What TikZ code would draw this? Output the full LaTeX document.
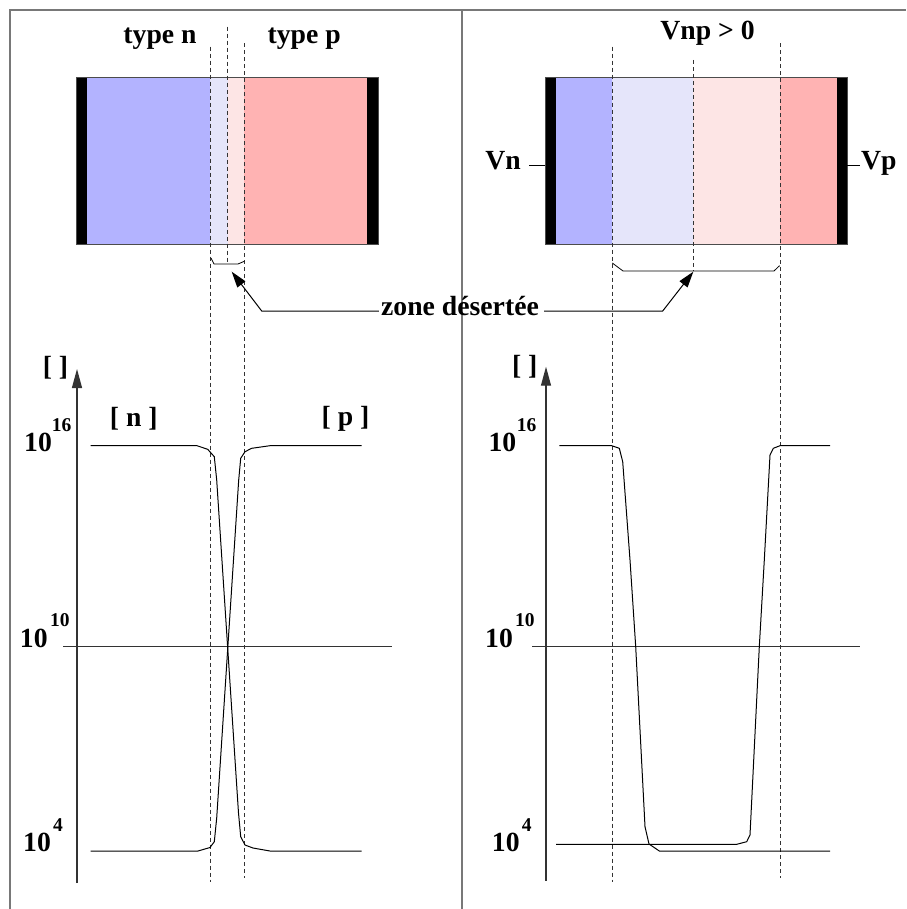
\documentclass[tikz,border=0pt]{standalone}
\usepackage{fontspec}
\setmainfont{Liberation Serif}
\usetikzlibrary{arrows.meta, positioning, calc}
\definecolor{ntype}{RGB}{179,179,255}
\definecolor{ndep}{RGB}{229,229,250}
\definecolor{pdep}{RGB}{253,229,229}
\definecolor{ptype}{RGB}{255,179,179}
\definecolor{framegray}{RGB}{120,120,120}
\tikzstyle{lab} = [inner sep=0pt, font=\fontsize{27.7}{32}\selectfont\bfseries]
\tikzstyle{expo} = [inner sep=0pt, anchor=base west, font=\fontsize{19.5}{22}\selectfont\bfseries]
\tikzstyle{guide} = [dash pattern=on 4pt off 3pt, line width=0.8pt, black!80]
\tikzstyle{curve} = [line width=1pt]
\tikzstyle{axis} = [-{Triangle[length=19pt, width=10pt]}, line width=1.2pt, black!80]
\tikzstyle{pointer} = [-{Triangle[length=16pt, width=10pt]}, line width=1pt]

\begin{document}
\begin{tikzpicture}[x=1pt, y=-1pt]
  \useasboundingbox (0,0) rectangle (906,909);

  % frame
  \draw[framegray, line width=2pt] (10,909) -- (10,10) -- (906,10);
  \draw[framegray, line width=2pt] (461.7,10) -- (461.7,909);

  % left junction, no bias
  \fill[ntype] (87,77) rectangle (210.3,244);
  \fill[ndep] (210.3,77) rectangle (227.7,244);
  \fill[pdep] (227.7,77) rectangle (244.3,244);
  \fill[ptype] (244.3,77) rectangle (367.3,244);
  \fill (76.7,77) rectangle (87.3,244);
  \fill (367.3,77) rectangle (378.3,244);
  \draw[line width=0.8pt, black!70] (76.7,77) rectangle (378.3,244);

  % right junction, Vnp > 0
  \fill[ntype] (556,77) rectangle (612,244);
  \fill[ndep] (612,77) rectangle (693.3,244);
  \fill[pdep] (693.3,77) rectangle (780,244);
  \fill[ptype] (780,77) rectangle (836.7,244);
  \fill (545,77) rectangle (556,244);
  \fill (836.7,77) rectangle (847.3,244);
  \draw[line width=0.8pt, black!70] (545,77) rectangle (847.3,244);

  \node[lab, anchor=base] (typen) at (160,43.5) {type n};
  \node[lab, anchor=base] (typep) at (304.2,43.5) {type p};
  \node[lab, anchor=base] (vnp) at (707.5,40) {Vnp > 0};
  \node[lab, anchor=base east] (vn) at (521,170) {Vn};
  \node[lab, anchor=base west] (vp) at (861,170) {Vp};
  \coordinate (cn) at (545,165);
  \coordinate (cp) at (847.3,165);
  \draw[line width=0.8pt] ($(vn.base east)+(8,-5)$) -- (cn);
  \draw[line width=0.8pt] (cp) -- ($(vp.base west)+(-1,-5)$);

  % dashed guides
  \draw[guide] (210.3,46.7) -- (210.3,881.7);
  \draw[guide] (227.7,26.7) -- (227.7,263);
  \draw[guide] (244.3,43.3) -- (244.3,878);
  \draw[guide] (612,46.7) -- (612,881.7);
  \draw[guide] (693.3,60) -- (693.3,271);
  \draw[guide] (780,43.3) -- (780,878);

  % depletion zone brackets
  \draw[line width=0.8pt] (211,258) -- (214,264) -- (238,264) -- (244.3,261.3);
  \draw[line width=0.8pt] (612.3,263) -- (623,271) -- (774,271) -- (779.5,265.7);

  \node[lab, anchor=base] (zone) at (460,315) {zone désertée};
  \coordinate (bendl) at (261.7,311);
  \coordinate (tipl) at (231.7,271.7);
  \coordinate (bendr) at (662.7,311);
  \coordinate (tipr) at (693.3,271.7);
  \draw[pointer] ($(zone.base west)+(-2,-4)$) -- (bendl) -- (tipl);
  \draw[pointer] ($(zone.base east)+(5,-4)$) -- (bendr) -- (tipr);

  % left plot
  \coordinate (axl0) at (77,883);
  \coordinate (axl1) at (77,369);
  \draw[axis] (axl0) -- (axl1);
  \node[lab] (conl) at (55.5,367.5) {[ ]};
  \node[lab] (conn) at (133.8,418.5) {[ n ]};
  \node[lab] (conp) at (345.5,418.5) {[ p ]};

  \node[lab, anchor=base west] (l16) at (24,451.7) {10};
  \node[expo] (l16x) at (51.7,431.7) {16};
  \node[lab, anchor=base west] (l10) at (19.7,647) {10};
  \node[expo] (l10x) at (50,626.7) {10};
  \node[lab, anchor=base west] (l4) at (23,851) {10};
  \node[expo] (l4x) at (53,831.7) {4};

  \draw[line width=1pt, black!80] (63.3,646.7) -- (391.7,646.7);
  \draw[curve] (90.7,445.7) -- (197,445.7) -- (207.7,449.3) -- (214.3,456.7)
    -- (216.7,480) -- (238.5,813) -- (240.7,836.7) -- (245,845) -- (253,848)
    -- (270,851) -- (361.7,851);
  \draw[curve] (90.7,851) -- (198,851) -- (210,847.5) -- (214.3,841.7)
    -- (216.7,818) -- (238.7,480) -- (240.7,458.3) -- (245,451.7) -- (251.7,448.3)
    -- (270,445.7) -- (361.7,445.7);

  % right plot
  \coordinate (axr0) at (546,880.7);
  \coordinate (axr1) at (546,366.7);
  \draw[axis] (axr0) -- (axr1);
  \node[lab] (conr) at (524.7,366.7) {[ ]};

  \node[lab, anchor=base west] (r16) at (488.3,451.7) {10};
  \node[expo] (r16x) at (516.7,431) {16};
  \node[lab, anchor=base west] (r10) at (485,647.3) {10};
  \node[expo] (r10x) at (515,626.7) {10};
  \node[lab, anchor=base west] (r4) at (491.7,851) {10};
  \node[expo] (r4x) at (521.7,831.7) {4};

  \draw[line width=1pt, black!80] (532.3,646.7) -- (860,646.7);
  \draw[curve] (559.3,445.7) -- (611.7,445.7) -- (619.3,448.3) -- (622.7,461.7)
    -- (630,560) -- (635.7,646.7) -- (645,826.7) -- (649,844) -- (659.3,851)
    -- (830,851);
  \draw[curve] (830,445.7) -- (780,445.7) -- (773.3,448.3) -- (770,455)
    -- (764.3,560) -- (759.3,646.7) -- (750,835) -- (746.7,841.7) -- (736.7,844.3)
    -- (556,844.3);
\end{tikzpicture}
\end{document}
